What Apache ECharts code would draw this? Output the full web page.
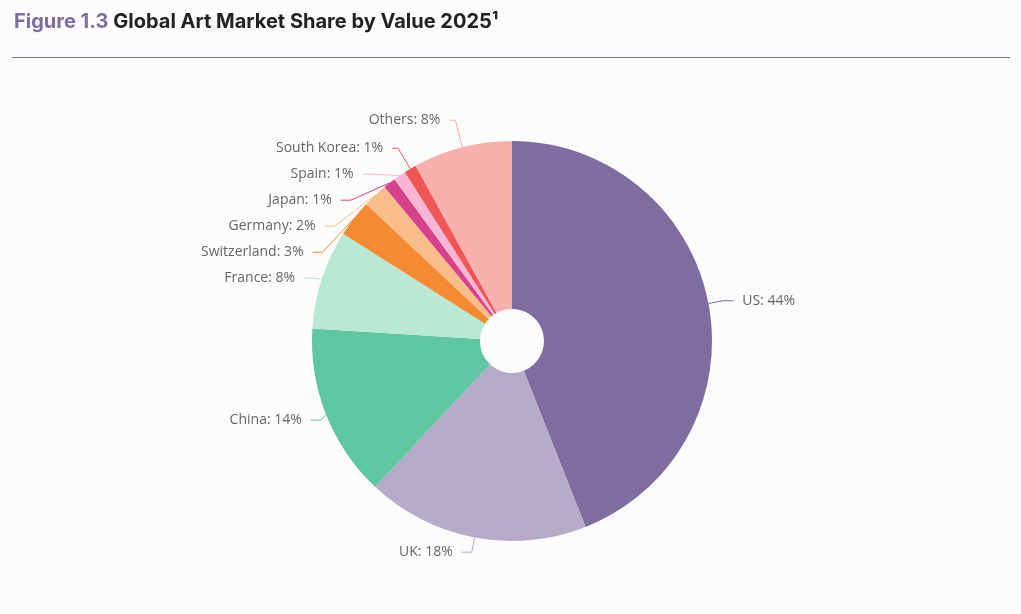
<!DOCTYPE html>
<html>
<head>
<meta charset="utf-8">
<script src="https://cdn.jsdelivr.net/npm/echarts@6/dist/echarts.min.js"></script>
<style>
  html, body { margin: 0; padding: 0; background: #fcfcfc; }
  #chart { width: 1021px; height: 614px; }
</style>
</head>
<body>
<div id="chart"></div>
<script>
// market share by value, percent
const markets = ['US', 'UK', 'China', 'France', 'Switzerland', 'Germany', 'Japan', 'Spain', 'South Korea', 'Others'];
const shares = [44, 18, 14, 8, 3, 2, 1, 1, 1, 8];
const colors = ['#7f6da0', '#b5abc8', '#5ec6a1', '#b9e8d5', '#f58a33', '#f9bd8a', '#d6428a', '#f8b6d4', '#f05656', '#f8b0ad'];

const chart = echarts.init(document.getElementById('chart'));

chart.setOption({
  backgroundColor: '#fcfcfc',
  title: {
    left: 9,
    top: 7,
    text: '{a|Figure 1.3} {b|Global Art Market Share by Value 2025¹}',
    textStyle: {
      rich: {
        a: { color: '#7f6da0', fontSize: 20, fontWeight: 'bold', fontFamily: 'Inter' },
        b: { color: '#222', fontSize: 20, fontWeight: 'bold', fontFamily: 'Inter' }
      }
    }
  },
  // rule under the title
  graphic: [{
    type: 'line',
    shape: { x1: 12, y1: 57.5, x2: 1010, y2: 57.5 },
    style: { stroke: '#7f6da0', lineWidth: 1 }
  }],
  color: colors,
  series: [{
    type: 'pie',
    center: [512, 341],
    radius: [32, 200],
    startAngle: 90,
    clockwise: true,
    avoidLabelOverlap: true,
    label: {
      formatter: '{b}: {c}%',
      color: '#666',
      fontSize: 14,
      fontFamily: 'Open Sans',
      lineHeight: 18,
      padding: [3, 0],
      distanceToLabelLine: 9
    },
    labelLine: {
      length: 15,
      length2: 10,
      lineStyle: { width: 1 }
    },
    itemStyle: { borderWidth: 0 },
    emphasis: { disabled: true },
    data: markets.map((name, i) => {
      const d = { name: name, value: shares[i] };
      // top labels sit higher, the small slices stack under them
      if (name === 'Others') d.labelLine = { length: 28, length2: 6 };
      if (name === 'South Korea') d.labelLine = { length: 24, length2: 6 };
      return d;
    })
  }]
});
</script>
</body>
</html>
